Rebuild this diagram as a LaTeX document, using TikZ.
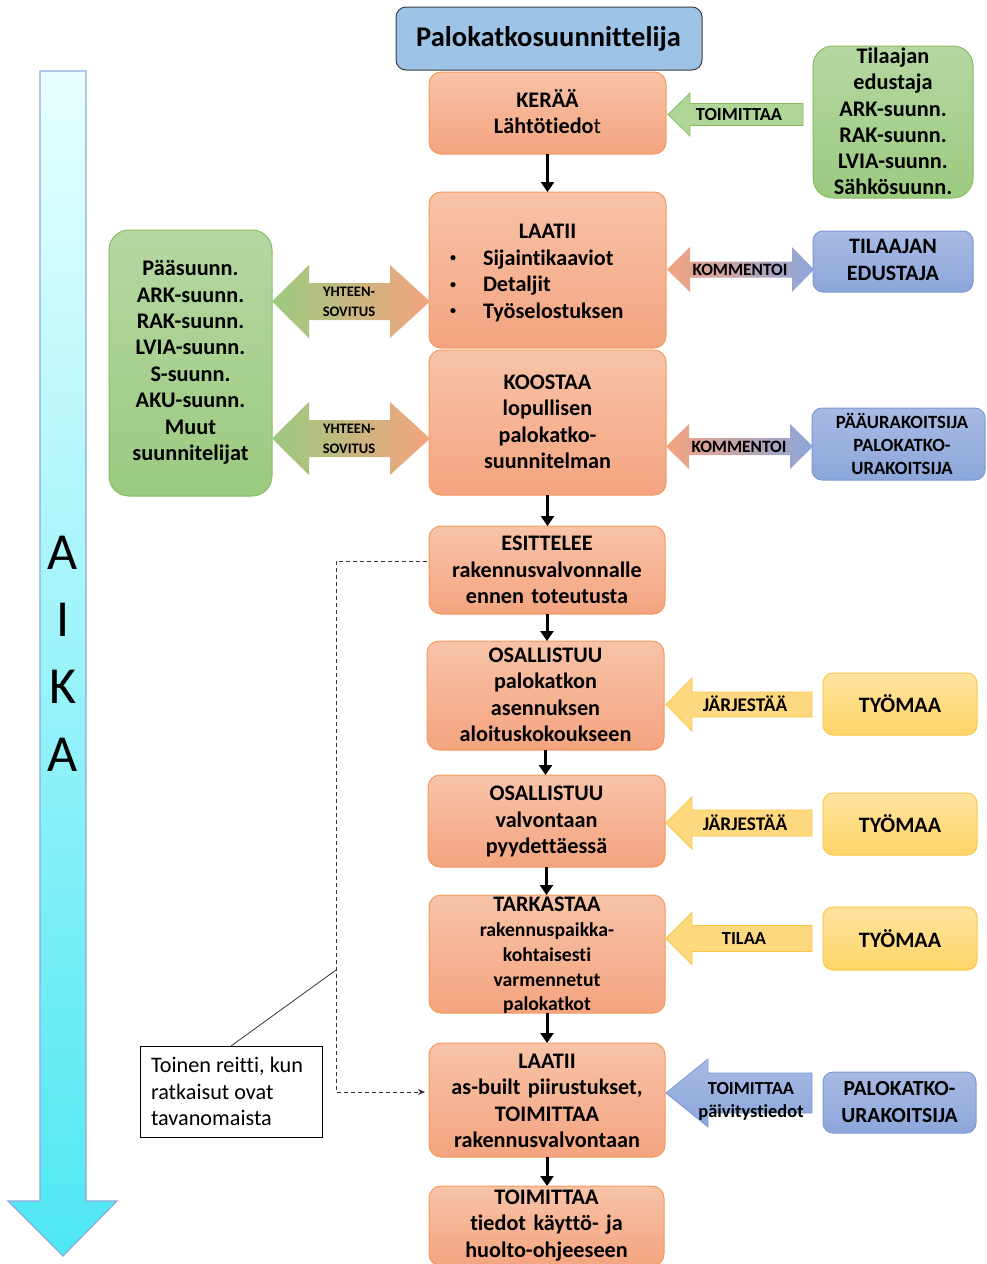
\documentclass[tikz,border=0pt]{standalone}
\usepackage{fontspec}
\setmainfont{Carlito}[Ligatures=NoCommon]
\usetikzlibrary{arrows.meta}
\definecolor{orgtop}{HTML}{F8C3A8}
\definecolor{orgbot}{HTML}{F4A47F}
\definecolor{orgline}{HTML}{F29A5E}
\definecolor{titfill}{HTML}{9DC3E6}
\definecolor{titline}{HTML}{3A3F45}
\definecolor{grtop}{HTML}{B5D7A2}
\definecolor{grbot}{HTML}{9CCA80}
\definecolor{grline}{HTML}{86BD63}
\definecolor{bltop}{HTML}{A8BAE4}
\definecolor{blbot}{HTML}{8CA6DB}
\definecolor{blline}{HTML}{7C98D3}
\definecolor{yetop}{HTML}{FFE3A0}
\definecolor{yebot}{HTML}{FFD567}
\definecolor{yeline}{HTML}{FAC646}
\definecolor{cytop}{HTML}{E8FFFF}
\definecolor{cybot}{HTML}{4EE7F4}
\definecolor{cyline}{HTML}{8FAADC}
\definecolor{garrow}{HTML}{AFD597}
\definecolor{yarrow}{HTML}{FFD97F}
\definecolor{dashc}{HTML}{353535}
\newcommand\myLarrow[7]{%
 \path[#1] (#2,#3) -- (#4,{#3-#5}) -- (#4,{#3-#6}) -- (#7,{#3-#6}) -- (#7,{#3+#6}) -- (#4,{#3+#6}) -- (#4,{#3+#5}) -- cycle;}
\newcommand\myDarrow[8]{%
 \path[#1] (#2,#3) -- (#4,{#3-#7}) -- (#4,{#3-#8}) -- (#5,{#3-#8}) -- (#5,{#3-#7}) -- (#6,#3) -- (#5,{#3+#7}) -- (#5,{#3+#8}) -- (#4,{#3+#8}) -- (#4,{#3+#7}) -- cycle;}
\newcommand\fs[2]{\fontsize{#1}{#2}\selectfont}
\newcommand\mybul{\makebox[33pt][l]{\raisebox{3.5pt}{\fs{12}{12}\textbullet}}}
\begin{document}
\begin{tikzpicture}[x=1pt,y=-1pt,
  every node/.style={inner sep=0pt,outer sep=0pt},
  obox/.style={draw=orgline,line width=1pt,rounded corners=12pt,top color=orgtop,bottom color=orgbot},
  gbox/.style={draw=grline,line width=1pt,rounded corners=20pt,top color=grtop,bottom color=grbot},
  bbox/.style={draw=blline,line width=1pt,rounded corners=10pt,top color=bltop,bottom color=blbot},
  ybox/.style={draw=yeline,line width=1pt,rounded corners=10pt,top color=yetop,bottom color=yebot},
  tbox/.style={draw=titline,line width=1pt,rounded corners=10pt,fill=titfill},
  txt/.style={align=center,text width=236pt,font=\bfseries\fs{22.2}{26.5}},
  lbl/.style={align=center,font=\bfseries\fs{18.4}{23}},
  flow/.style={-{Triangle[length=10pt,width=13pt]},line width=3pt},
  dashln/.style={dashed,dash pattern=on 4pt off 3pt,draw=dashc,line width=1pt,-{Stealth[length=7pt,width=6pt]}},
]
\useasboundingbox (0,0) rectangle (987,1264);
\clip (0,0) rectangle (987,1264);

% time arrow
\path[draw=cyline,line width=1.2pt,top color=cytop,bottom color=cybot]
  (40,71) -- (86,71) -- (86,1201) -- (117,1201) -- (63,1256) -- (8,1201) -- (40,1201) -- cycle;
\node[font=\fs{52}{60}] (a1) at (63,553) {A};
\node[font=\fs{52}{60}] (a2) at (63,620) {I};
\node[font=\fs{52}{60}] (a3) at (63,687) {K};
\node[font=\fs{52}{60}] (a4) at (63,755) {A};

% main column boxes
\node[tbox,minimum width=306pt,minimum height=63pt] (title) at (549,38.5) {};
\node[font=\bfseries\fs{28.5}{32}] (titlet) at (548.5,38.5) {Palokatkosuunnittelija};

\node[obox,minimum width=237pt,minimum height=82pt] (keraa) at (547.5,113) {};
\node[txt] (keraat) at (547.5,111.5) {KERÄÄ\\Lähtötiedo{\mdseries t}};

\node[obox,minimum width=237pt,minimum height=156pt] (laatii1) at (547.5,270) {};
\node[font=\bfseries\fs{22.2}{26.5}] (laatii1t) at (547.5,273) {\begin{minipage}{195pt}
{\centering LAATII\par}
\mybul Sijaintikaaviot\par
\mybul Detaljit\par
\mybul Työselostuksen\par
\end{minipage}};

\node[obox,minimum width=237pt,minimum height=145pt] (koostaa) at (547.5,422.5) {};
\node[txt] (koostaat) at (547.5,422) {KOOSTAA\\lopullisen\\palokatko-\\suunnitelman};

\node[obox,minimum width=236pt,minimum height=88pt] (esit) at (547,570) {};
\node[txt] (esitt) at (547,570) {ESITTELEE\\rakennusvalvonnalle\\ennen toteutusta};

\node[obox,minimum width=237pt,minimum height=109pt] (osall1) at (545.5,695.5) {};
\node[txt] (osall1t) at (545.5,695) {OSALLISTUU\\palokatkon\\asennuksen\\aloituskokoukseen};

\node[obox,minimum width=237pt,minimum height=92pt] (osall2) at (546.5,821) {};
\node[txt] (osall2t) at (546.5,821.5) {OSALLISTUU\\valvontaan\\pyydettäessä};

\node[obox,minimum width=236pt,minimum height=118pt] (tark) at (547,954) {};
\node[txt,font=\bfseries\fs{19.7}{24.8}] (tarkt) at (547,955.5) {{\fs{22.2}{24.8}TARKASTAA}\\rakennuspaikka-\\kohtaisesti\\varmennetut\\palokatkot};

\node[obox,minimum width=236pt,minimum height=114pt] (laatii2) at (547,1100) {};
\node[txt] (laatii2t) at (547,1101) {LAATII\\as-built piirustukset,\\TOIMITTAA\\rakennusvalvontaan};

\node[obox,minimum width=235pt,minimum height=80pt] (toim) at (546.5,1226) {};
\node[txt] (toimt) at (546.5,1225.5) {TOIMITTAA\\tiedot käyttö- ja\\huolto-ohjeeseen};

% flow arrows
\draw[flow] (keraa.south) -- (keraa.south |- laatii1.north);
\draw[flow] (koostaa.south) -- (koostaa.south |- esit.north);
\draw[flow] (esit.south) -- (esit.south |- osall1.north);
\draw[flow] (osall1.south) -- (osall1.south |- osall2.north);
\draw[flow] (osall2.south) -- (osall2.south |- tark.north);
\draw[flow] (tark.south) -- (tark.south |- laatii2.north);
\draw[flow] (laatii2.south) -- (laatii2.south |- toim.north);

% right column
\node[gbox,minimum width=160pt,minimum height=152pt] (gr1) at (893,122) {};
\node[align=center,font=\bfseries\fs{22.3}{26.2}] (gr1t) at (893,121.5) {Tilaajan\\edustaja\\ARK-suunn.\\RAK-suunn.\\LVIA-suunn.\\Sähkösuunn.};
\myLarrow{draw=grline,line width=0.8pt,fill=garrow}{668}{114.5}{690}{21.5}{11}{803}
\node[lbl] (toim1l) at (739,114.5) {TOIMITTAA};

\node[bbox,minimum width=160pt,minimum height=61pt] (tilaaja) at (893,261.5) {};
\node[align=center,font=\bfseries\fs{22}{27}] (tilaajat) at (893,260) {TILAAJAN\\EDUSTAJA};
\myDarrow{left color=orgbot,right color=blbot}{667}{269.5}{690}{792}{814}{22.5}{8}
\node[lbl,font=\bfseries\fs{17.3}{20}] (komm1) at (740,269.5) {KOMMENTOI};

\node[bbox,minimum width=173pt,minimum height=72pt] (paa) at (898.5,444) {};
\node[align=center,font=\bfseries\fs{18.7}{23}] (paat) at (902,444) {PÄÄURAKOITSIJA\\PALOKATKO-\\URAKOITSIJA};
\myDarrow{left color=orgbot,right color=blbot}{666}{446.5}{689}{790}{813}{22.5}{8.5}
\node[lbl,font=\bfseries\fs{17.3}{20}] (komm2) at (739,446.5) {KOMMENTOI};

\node[ybox,minimum width=154pt,minimum height=62pt] (ty1) at (900,704) {};
\node[font=\bfseries\fs{22}{26}] (ty1t) at (900,704) {TYÖMAA};
\myLarrow{draw=yeline,line width=0.8pt,fill=yarrow}{666}{704.5}{692}{26.5}{12.5}{812}
\node[lbl,font=\bfseries\fs{19.3}{23}] (jarj1) at (745,704) {JÄRJESTÄÄ};

\node[ybox,minimum width=154pt,minimum height=62pt] (ty2) at (900,824) {};
\node[font=\bfseries\fs{22}{26}] (ty2t) at (900,824) {TYÖMAA};
\myLarrow{draw=yeline,line width=0.8pt,fill=yarrow}{666}{823}{692}{26}{13}{812}
\node[lbl,font=\bfseries\fs{19.3}{23}] (jarj2) at (745,823) {JÄRJESTÄÄ};

\node[ybox,minimum width=154pt,minimum height=63pt] (ty3) at (900,938.5) {};
\node[font=\bfseries\fs{22}{26}] (ty3t) at (900,938.5) {TYÖMAA};
\myLarrow{draw=yeline,line width=0.8pt,fill=yarrow}{666}{938.5}{692}{26}{13}{812}
\node[lbl] (tilaa) at (744,939) {TILAA};

\node[bbox,minimum width=153pt,minimum height=61pt] (palok) at (899.5,1102.5) {};
\node[align=center,font=\bfseries\fs{21.5}{27}] (palokt) at (899.5,1102) {PALOKATKO-\\URAKOITSIJA};
\myLarrow{draw=blline,line width=0.8pt,top color=bltop,bottom color=blbot}{666}{1093}{708}{34}{20}{812}
\node[lbl,font=\bfseries\fs{18.4}{23}] (toim2l) at (751,1101) {TOIMITTAA\\päivitystiedot};

% left column
\node[gbox,minimum width=163pt,minimum height=266pt] (gr2) at (190.5,363) {};
\node[align=center,font=\bfseries\fs{22.3}{26.4}] (gr2t) at (190.5,362.5) {Pääsuunn.\\ARK-suunn.\\RAK-suunn.\\LVIA-suunn.\\S-suunn.\\AKU-suunn.\\Muut\\suunnitelijat};
\myDarrow{left color=grbot,right color=orgbot}{272}{301.5}{309}{390}{430}{36.5}{18.5}
\node[align=center,font=\bfseries\fs{14.5}{20}] (yht1) at (349,302) {YHTEEN-\\SOVITUS};
\myDarrow{left color=grbot,right color=orgbot}{272}{438.5}{309}{390}{430}{36.5}{18.5}
\node[align=center,font=\bfseries\fs{14.5}{20}] (yht2) at (349,439) {YHTEEN-\\SOVITUS};

% alternative route
\coordinate (d1) at (336,561);
\coordinate (d2) at (336,1092);
\draw[dashln,shorten <=2pt,shorten >=4pt] (esit.west |- d1) -- (d1) -- (d2) -- (laatii2.west |- d2);
\node[draw=black,line width=0.8pt,fill=white,minimum width=182pt,minimum height=91pt] (note) at (231,1091.5) {};
\node[anchor=west,align=left,font=\fs{22.2}{26.5}] (notet) at (151,1091.5) {Toinen reitti, kun\\ratkaisut ovat\\tavanomaista};
\coordinate (callpt) at (336,970);
\draw[line width=0.8pt,draw=dashc] (note.north) -- (callpt);
\end{tikzpicture}
\end{document}
